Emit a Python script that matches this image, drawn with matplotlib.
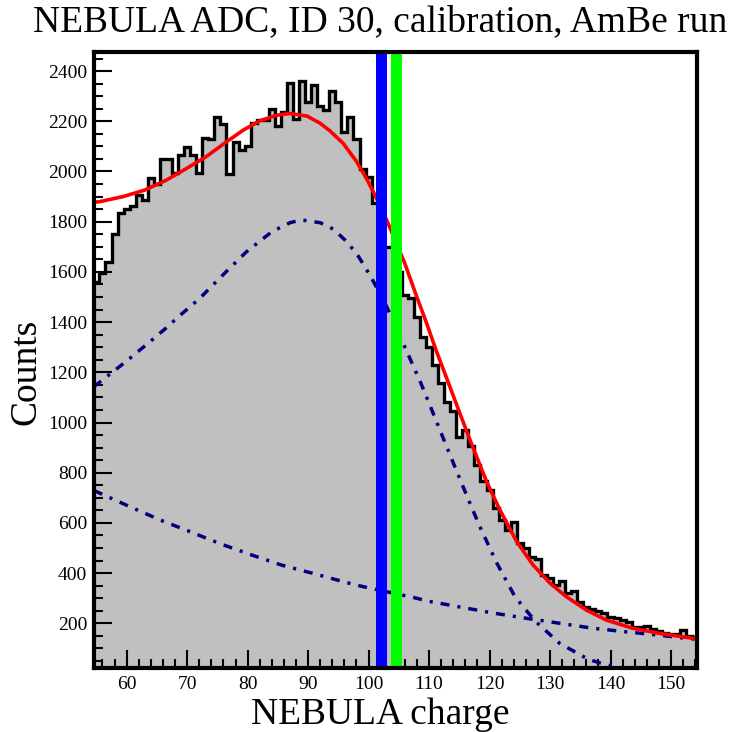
import numpy as np
import matplotlib
matplotlib.use("Agg")
import matplotlib.pyplot as plt
from matplotlib.ticker import MultipleLocator

# ---------------- data ----------------
bin_centers = list(range(55, 155))
counts = [
    1560, 1594, 1640, 1751, 1833, 1849, 1862, 1905, 1885, 1973,   # 55-64
    1950, 2048, 2048, 1995, 2065, 2096, 2065, 1995, 2132, 2128,   # 65-74
    2218, 2189, 1990, 2118, 2085, 2100, 2192, 2205, 2205, 2249,   # 75-84
    2181, 2238, 2351, 2209, 2360, 2275, 2344, 2262, 2245, 2319,   # 85-94
    2275, 2158, 2218, 2128, 2008, 1979, 1875, 1790, 1700, 1700,   # 95-104
    1600, 1508, 1495, 1421, 1339, 1302, 1229, 1156, 1083, 1047,   # 105-114
    941, 972, 908, 831, 768, 732, 658, 612, 570, 605,             # 115-124
    519, 499, 463, 455, 393, 380, 353, 370, 322, 329,             # 125-134
    283, 265, 256, 249, 240, 225, 222, 214, 205, 184,             # 135-144
    186, 189, 177, 171, 160, 158, 158, 175, 150, 147,             # 145-154
]

# total fit (red)
fit_x = [54.6, 55.6, 59.4, 63, 66.6, 69.9, 73.2, 76.5, 79.3, 82, 84.8, 87,
         89.8, 92, 93.6, 95.8, 98, 99.7, 101, 102.7, 104.3, 106, 107.9,
         109.6, 111.2, 113.2, 115.1, 117, 119.5, 121.7, 124.5, 127.2, 130,
         132.7, 136, 139.3, 143.7, 148.1, 153.1, 154.3]
fit_y = [1877, 1880, 1900, 1926, 1966, 2012, 2060, 2118, 2165, 2202, 2224, 2231,
         2221, 2192, 2162, 2112, 2040, 1970, 1908, 1822, 1733, 1633, 1505,
         1395, 1285, 1158, 1036, 916, 765, 652, 525, 432, 360,
         306, 253, 213, 180, 160, 142, 139]

# peak component (navy dash-dot)
peak_x = [54.6, 60, 63, 66.6, 68.5, 72.1, 76, 79.8, 84, 87, 88.9, 92, 94.2,
          96.1, 98, 99.4, 100.8, 103, 106, 108.5, 110.2, 112.3, 114.5, 116.5,
          118.4, 121.2, 124.2, 127.5, 131.6, 136.3, 138.8, 141]
peak_y = [1143, 1245, 1305, 1378, 1420, 1495, 1590, 1680, 1760, 1796, 1807, 1796,
          1770, 1727, 1674, 1620, 1562, 1461, 1300, 1165, 1065, 940, 810, 693,
          585, 440, 306, 210, 120, 57, 38, 26]

# background component (navy dash-dot)
bkg_x = [54.6, 60.5, 65.5, 70.5, 75.7, 80.7, 85.6, 91.1, 96.4, 99.1, 107.4,
         109.9, 115.1, 120.6, 126.1, 131.1, 136.9, 142.6, 147.6, 152.6, 154.3]
bkg_y = [729, 665, 612, 565, 515, 472, 432, 397, 362, 346, 303,
         288, 265, 241, 220, 202, 181, 166, 154, 140, 137]

# calibration markers
marker_pos = [102.0, 104.6]
marker_colors = ["#0000ff", "#00ff00"]

title = "NEBULA ADC, ID 30, calibration, AmBe run"
xlabel = "NEBULA charge"
ylabel = "Counts"

# ---------------- figure ----------------
plt.rcParams['font.family'] = ['Liberation Serif', 'DejaVu Serif']
W, H = 729, 732
fig = plt.figure(figsize=(W / 100, H / 100), dpi=100)
L, R, T, B = 94, 697, 52, 668
ax = fig.add_axes([L / W, 1 - B / H, (R - L) / W, (B - T) / H])

edges = np.concatenate([np.array(bin_centers) - 0.5, [bin_centers[-1] + 0.5]])
ax.stairs(counts, edges, fill=True, color="#c0c0c0", baseline=0, zorder=1)
ax.stairs(counts, edges, baseline=None, color="black", lw=2.4, zorder=2)

dd = (0, (2.6, 2.3, 0.9, 2.3))
ax.plot(peak_x, peak_y, color="#000080", lw=2.5, linestyle=dd, zorder=3)
ax.plot(bkg_x, bkg_y, color="#000080", lw=2.5, linestyle=dd, zorder=3)
ax.plot(fit_x, fit_y, color="#ff0000", lw=2.6, zorder=4,
        solid_joinstyle="round")

for xp, c in zip(marker_pos, marker_colors):
    ax.axvline(xp, color=c, lw=7.9, zorder=5)

ax.set_xlim(54.6, 154.3)
ax.set_ylim(22, 2476)

ax.xaxis.set_major_locator(MultipleLocator(10))
ax.xaxis.set_minor_locator(MultipleLocator(2))
ax.yaxis.set_major_locator(MultipleLocator(200))
ax.yaxis.set_minor_locator(MultipleLocator(50))
ax.tick_params(which="both", direction="in", top=False, right=False,
               width=1.5, labelsize=14)
ax.tick_params(which="major", length=13)
ax.tick_params(which="minor", length=6.5)
ax.tick_params(axis="x", pad=6)
ax.tick_params(axis="y", pad=5)
ax.set_yticks([v for v in range(200, 2401, 200)])

for s in ax.spines.values():
    s.set_linewidth(3)
    s.set_zorder(6)

fig.text(380 / W, 1 - 22 / H, title, ha="center", va="center", fontsize=27)
fig.text(380 / W, 1 - 715 / H, xlabel, ha="center", va="center", fontsize=27)
fig.text(26 / W, 1 - 372 / H, ylabel, ha="center", va="center", rotation=90,
         fontsize=27)

fig.savefig("out.png", dpi=100)
